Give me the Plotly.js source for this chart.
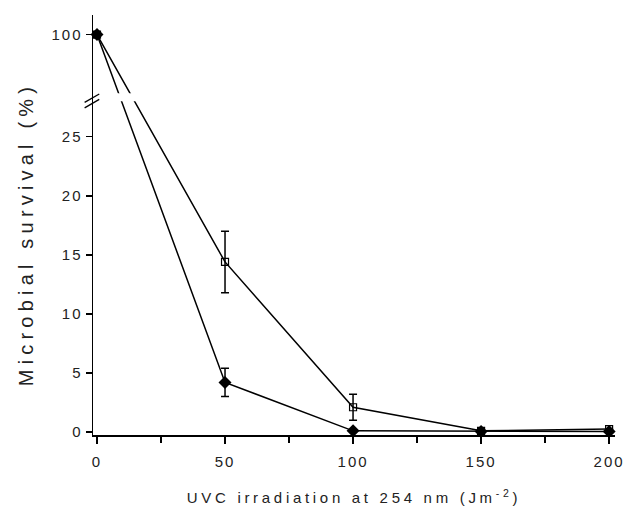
<!DOCTYPE html>
<html>
<head>
<meta charset="utf-8">
<script src="https://cdn.plot.ly/plotly-3.0.1.min.js"></script>
<style>
html,body{margin:0;padding:0;background:#fff;}
#chart{width:627px;height:514px;}
</style>
</head>
<body>
<div id="chart"></div>
<script>
// ---- data ----
const doses = [0, 50, 100, 150, 200];
const survivalFilled = [100, 4.2, 0.1, 0.05, 0.05];
const errFilled = [0, 1.2, 0, 0, 0];
const survivalOpen = [100, 14.4, 2.1, 0.1, 0.25];
const errOpen = [0, 2.6, 1.1, 0, 0];
const yTickValues = [0, 5, 10, 15, 20, 25, 100];
const yTickLabels = ['0', '5', '10', '15', '20', '25', '100'];
const xTickValues = [0, 50, 100, 150, 200];

// ---- broken y-axis mapping (lower segment 0..28 linear, upper segment compressed) ----
const BREAK = 28;
function disp(v) { return v <= BREAK ? v : 28.6 + (v - 80) * 0.252; }
const mapArr = a => a.map(disp);
const errPlus = (vals, errs) => vals.map((v, i) => disp(v + errs[i]) - disp(v));
const errMinus = (vals, errs) => vals.map((v, i) => disp(v) - disp(v - errs[i]));

const traceOpen = {
  x: doses, y: mapArr(survivalOpen), type: 'scatter', mode: 'lines+markers',
  line: {color: '#000', width: 1.5},
  marker: {symbol: 'square-open', size: 7, color: '#000', line: {width: 1.2, color: '#000'}},
  error_y: {type: 'data', symmetric: false, array: errPlus(survivalOpen, errOpen),
            arrayminus: errMinus(survivalOpen, errOpen), color: '#000', thickness: 1.5, width: 4},
  showlegend: false, cliponaxis: false
};
const traceFilled = {
  x: doses, y: mapArr(survivalFilled), type: 'scatter', mode: 'lines+markers',
  line: {color: '#000', width: 1.5},
  marker: {symbol: 'diamond', size: 10, color: '#000'},
  error_y: {type: 'data', symmetric: false, array: errPlus(survivalFilled, errFilled),
            arrayminus: errMinus(survivalFilled, errFilled), color: '#000', thickness: 1.5, width: 4},
  showlegend: false, cliponaxis: false
};

const font = {family: '"Liberation Sans", Arial, sans-serif', color: '#222'};

const layout = {
  width: 627, height: 514,
  margin: {l: 93, r: 12, t: 15, b: 79},
  paper_bgcolor: '#fff', plot_bgcolor: '#fff',
  font: font,
  xaxis: {
    range: [-1.56, 202.3], showgrid: false, zeroline: false,
    showline: true, linecolor: '#000', linewidth: 1.5,
    ticks: 'outside', ticklen: 7, tickwidth: 1.5, tickcolor: '#000',
    tickvals: xTickValues, ticktext: xTickValues.map(String),
    ticklabelstandoff: 5,
    tickfont: {size: 15, family: font.family, color: '#222'},
    minor: {dtick: 25, tick0: 0, ticks: 'outside', ticklen: 6, tickwidth: 1.2, tickcolor: '#000'},
    title: {text: 'UVC irradiation at 254 nm (Jm<sup>-2</sup>)', standoff: 24,
            font: {size: 15, family: font.family, color: '#222'}}
  },
  yaxis: {
    range: [-0.25, 35.3], showgrid: false, zeroline: false,
    showline: true, linecolor: '#000', linewidth: 1.5,
    ticks: 'outside', ticklen: 6, tickwidth: 1.5, tickcolor: '#000',
    tickvals: mapArr(yTickValues), ticktext: yTickLabels,
    tickfont: {size: 15, family: font.family, color: '#222'},
    title: {text: 'Microbial survival (%)', standoff: 14,
            font: {size: 20, family: font.family, color: '#222'}}
  },
  shapes: [
    // white gap in the data lines at the axis break
    {type: 'rect', xref: 'x', yref: 'y', x0: 3, x1: 25, y0: 28.0, y1: 28.68,
     fillcolor: '#fff', line: {width: 0}, layer: 'above'},
    // break marks on the y axis
    {type: 'line', xref: 'paper', yref: 'paper', x0: -0.016, x1: 0.012, y0: 0.779, y1: 0.799,
     line: {color: '#000', width: 1.3}},
    {type: 'line', xref: 'paper', yref: 'paper', x0: -0.016, x1: 0.012, y0: 0.792, y1: 0.812,
     line: {color: '#000', width: 1.3}}
  ]
};

Plotly.newPlot('chart', [traceOpen, traceFilled], layout, {displayModeBar: false, staticPlot: true})
  .then(() => {
    document.querySelectorAll('.xtitle').forEach(el => el.style.letterSpacing = '3.7px');
    document.querySelectorAll('.ytitle').forEach(el => {
      el.style.letterSpacing = '5.2px';
      el.setAttribute('transform', (el.getAttribute('transform') || '') + ' translate(-9,-4)');
    });
    document.querySelectorAll('.xtick text, .ytick text').forEach(el => el.style.letterSpacing = '2px');
  });
</script>
</body>
</html>
